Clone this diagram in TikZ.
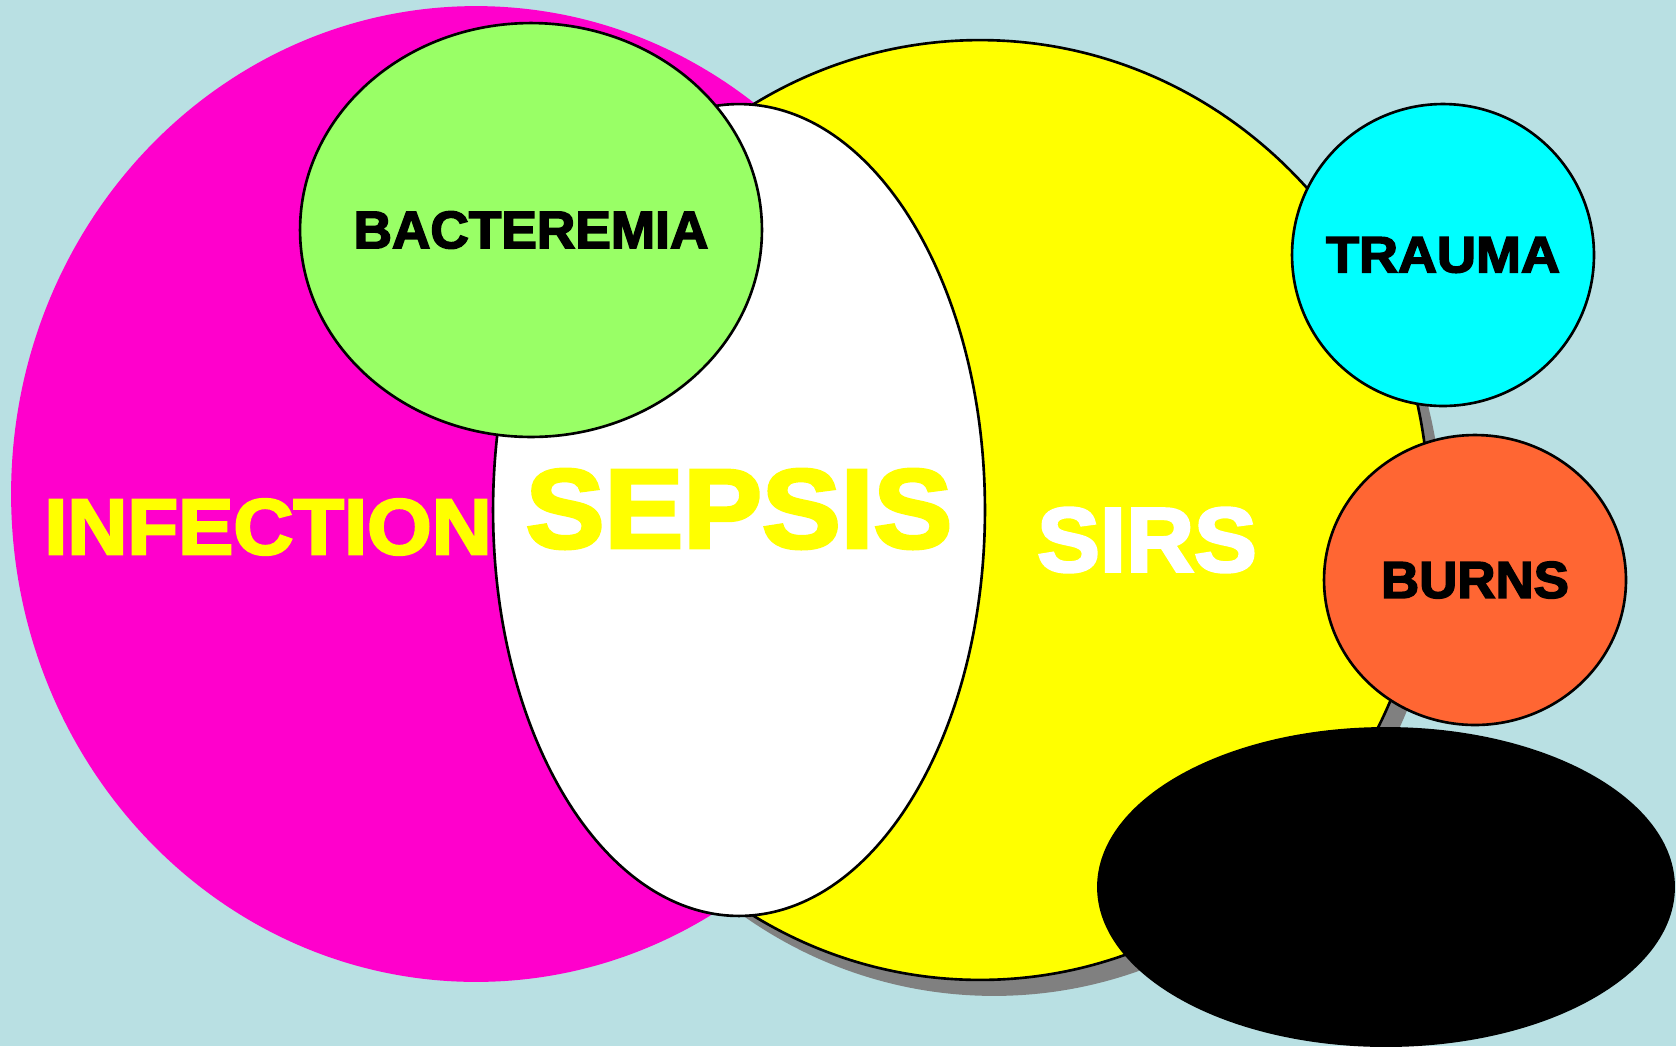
\documentclass[tikz,border=0pt]{standalone}
\usepackage{fontspec}
\setmainfont{Liberation Sans}[BoldFeatures={FakeBold=3}]
\usepackage{tikz}
\usetikzlibrary{shapes.geometric,shadows}
\definecolor{PaleTeal}{RGB}{185,224,227}
\definecolor{InfectMagenta}{RGB}{255,0,204}
\definecolor{SirsYellow}{RGB}{255,255,0}
\definecolor{BactGreen}{RGB}{153,255,102}
\definecolor{TraumaCyan}{RGB}{0,255,255}
\definecolor{BurnsOrange}{RGB}{255,102,51}
\definecolor{ShadeGray}{RGB}{128,128,128}

\begin{document}
\begin{tikzpicture}[x=0.02cm,y=-0.02cm,
    blob/.style={ellipse,inner sep=0pt,outer sep=0pt},
    rim/.style={blob,draw=black,line width=1.5pt},
    lbl/.style={inner sep=0pt,font=\fontsize{#1}{#1}\selectfont\bfseries}]
      \fill[PaleTeal] (0,0) rectangle (1676,1046);
      \useasboundingbox (0,0) rectangle (1676,1046);
      \node[blob,fill=InfectMagenta,minimum width=18.6cm,minimum height=19.52cm] (infection) at (476,494) {};
      \node[lbl=45,text=SirsYellow,xscale=1.05] (infectiontxt) at (268,527) {INFECTION};
      \node[rim,fill=SirsYellow,minimum width=17.96cm,minimum height=18.8cm,
        drop shadow={shadow xshift=0.28cm,shadow yshift=-0.32cm,fill=ShadeGray,opacity=1}] (sirs) at (980,510) {};
      \node[lbl=52,text=white,xscale=1.03] (sirstxt) at (1147,540) {SIRS};
      \node[rim,fill=white,minimum width=9.84cm,minimum height=16.24cm] (sepsis) at (739,510) {};
      \node[lbl=64,text=SirsYellow,xscale=1.05] (sepsistxt) at (739,509) {SEPSIS};
      \node[rim,fill=BactGreen,minimum width=9.24cm,minimum height=8.28cm] (bacteremia) at (531,230) {};
      \node[lbl=30,xscale=1.01] (bacteremiatxt) at (bacteremia) {BACTEREMIA};
      \node[rim,fill=TraumaCyan,minimum width=6.04cm,minimum height=6.04cm] (trauma) at (1443,255) {};
      \node[lbl=29,xscale=1.06] (traumatxt) at (trauma) {TRAUMA};
      \node[rim,fill=BurnsOrange,minimum width=6.04cm,minimum height=5.8cm] (burns) at (1475,580) {};
      \node[lbl=29.5,xscale=1.02] (burnstxt) at (burns) {BURNS};
      \node[blob,fill=black,minimum width=11.56cm,minimum height=6.4cm] (blank) at (1386,887) {};
\end{tikzpicture}
\end{document}
